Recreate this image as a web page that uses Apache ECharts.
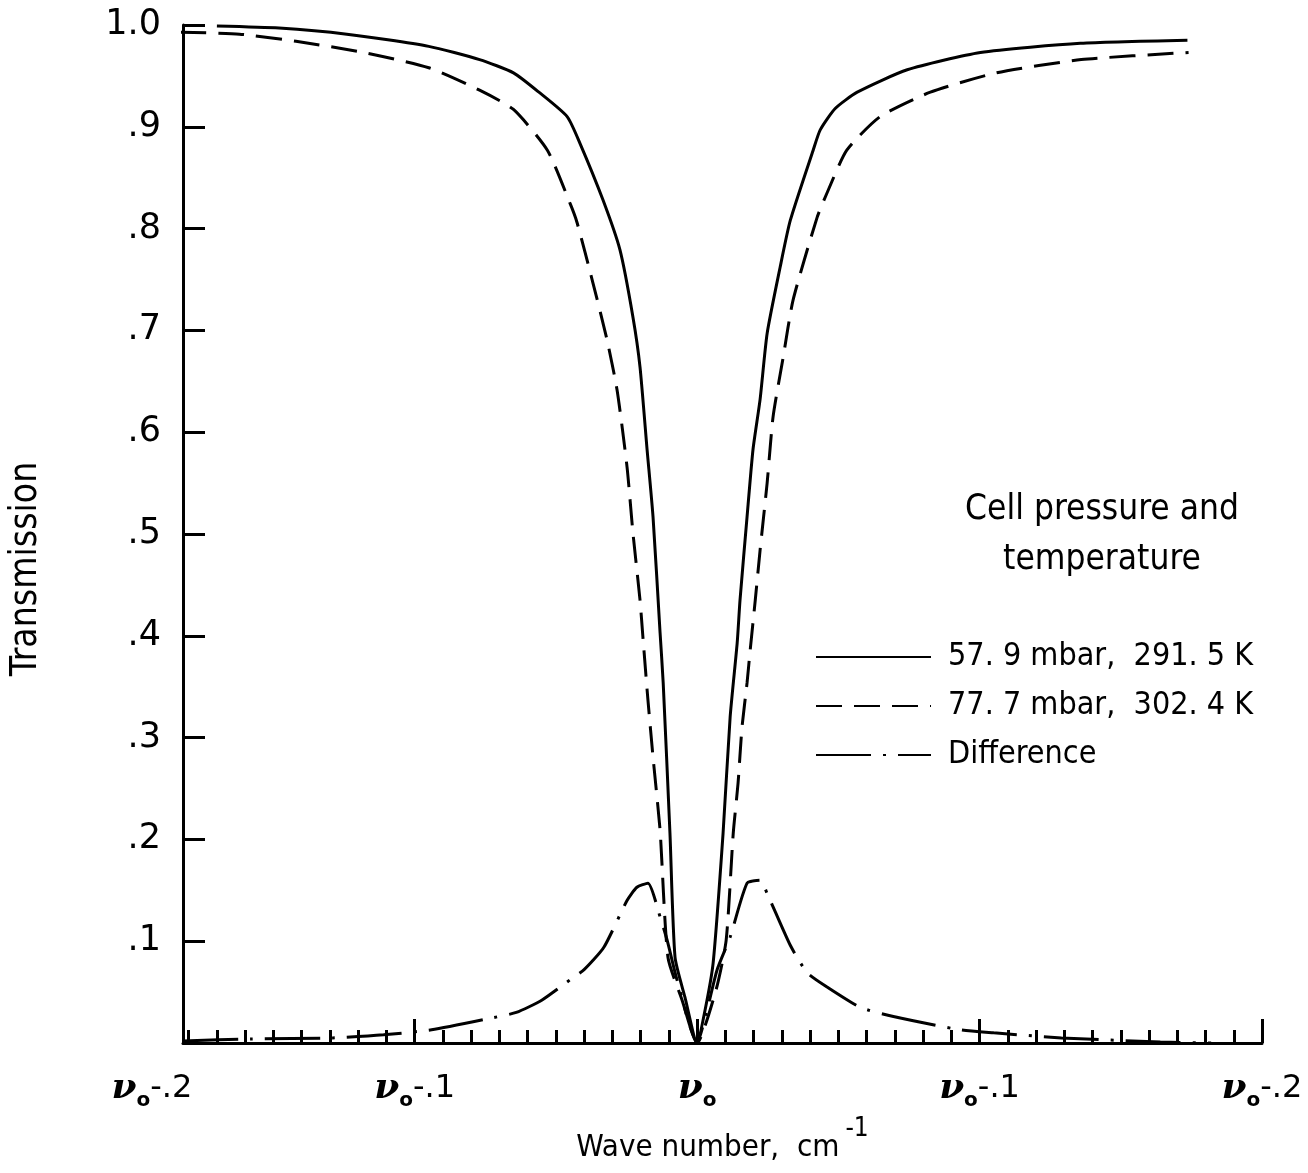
<!DOCTYPE html>
<html>
<head>
<meta charset="utf-8">
<script src="https://cdn.jsdelivr.net/npm/echarts@6/dist/echarts.min.js"></script>
<style>
  html, body { margin: 0; background: #fff; }
  #chart { width: 1308px; height: 1173px; }
</style>
</head>
<body>
<div id="chart"></div>
<script>
// wave number offset from line centre (cm-1) and transmission
var solidX = [-0.170, -0.148, -0.124, -0.095, -0.077, -0.065, -0.056, -0.046, -0.0415, -0.0333, -0.0273, -0.0227, -0.0202, -0.0177, -0.0156, -0.0131, -0.0120, -0.0096, -0.0078, -0.0043, 0,
  0.0028, 0.0057, 0.0092, 0.0117, 0.0142, 0.0152, 0.0177, 0.0198, 0.0223, 0.0248, 0.0294, 0.033, 0.0411, 0.0436, 0.0489, 0.0567, 0.0744, 0.1003, 0.1357, 0.1736];
var solidY = [0.999, 0.997, 0.991, 0.979, 0.966, 0.953, 0.934, 0.910, 0.884, 0.828, 0.779, 0.713, 0.664, 0.583, 0.517, 0.403, 0.354, 0.206, 0.084, 0.045, 0,
  0.032, 0.079, 0.206, 0.320, 0.393, 0.435, 0.517, 0.583, 0.632, 0.697, 0.762, 0.808, 0.877, 0.897, 0.918, 0.934, 0.956, 0.973, 0.982, 0.985];

var dashX = [-0.183, -0.162, -0.142, -0.118, -0.095, -0.077, -0.065, -0.053, -0.045, -0.0425, -0.0369, -0.0319, -0.0283, -0.0248, -0.0227, -0.0202, -0.0191, -0.0174, -0.0156, -0.0131, -0.0103, -0.0053, 0,
  0.0067, 0.0103, 0.0128, 0.0145, 0.0159, 0.0177, 0.0188, 0.0206, 0.0223, 0.0248, 0.0269, 0.0305, 0.034, 0.0425, 0.046, 0.053, 0.0648, 0.0826, 0.106, 0.136, 0.174];
var dashY = [0.993, 0.991, 0.984, 0.973, 0.958, 0.936, 0.917, 0.877, 0.825, 0.806, 0.747, 0.691, 0.641, 0.566, 0.501, 0.435, 0.396, 0.337, 0.281, 0.209, 0.084, 0.042, 0,
  0.052, 0.101, 0.206, 0.255, 0.310, 0.354, 0.386, 0.435, 0.484, 0.550, 0.615, 0.674, 0.730, 0.811, 0.835, 0.877, 0.910, 0.934, 0.953, 0.966, 0.973];

var diffX = [-0.182, -0.158, -0.129, -0.111, -0.094, -0.072, -0.064, -0.055, -0.045, -0.040, -0.033, -0.0248, -0.0213, -0.0174, -0.0131, -0.0106, -0.0071, 0,
  0.0035, 0.0071, 0.0117, 0.0177, 0.0223, 0.0248, 0.033, 0.039, 0.046, 0.0578, 0.0695, 0.093, 0.105, 0.129, 0.164, 0.182];
var diffY = [0.002, 0.004, 0.005, 0.008, 0.013, 0.025, 0.030, 0.042, 0.062, 0.072, 0.094, 0.140, 0.153, 0.157, 0.124, 0.101, 0.062, 0,
  0.032, 0.072, 0.104, 0.157, 0.160, 0.147, 0.096, 0.069, 0.055, 0.035, 0.026, 0.013, 0.010, 0.005, 0.001, 0.0];

var seriesNames = ['57. 9 mbar,  291. 5 K', '77. 7 mbar,  302. 4 K', 'Difference'];

// x tick labels (the left end of the axis sits a little inside nu0-.2)
var xLabelValues = [-0.182, -0.1, 0, 0.1, 0.2];
var xLabelText = ['-.2', '-.1', '', '-.1', '-.2'];
var xMajorTicks = [-0.1, 0, 0.1, 0.2];
var xMinorTicks = [];
for (var k = -18; k <= 20; k++) xMinorTicks.push(k / 100);

var condensed = "'DejaVu Sans Condensed', 'Liberation Sans Narrow', 'DejaVu Sans', sans-serif";

function zip(xs, ys) {
  return xs.map(function (x, i) { return [x, ys[i]]; });
}

var chart = echarts.init(document.getElementById('chart'));

chart.setOption({
  animation: false,
  backgroundColor: '#fff',
  grid: { left: 183, right: 46, top: 25, bottom: 130 },
  xAxis: [
    {
      type: 'value',
      min: -0.182,
      max: 0.2,
      axisLine: { onZero: false, lineStyle: { color: '#000', width: 3 } },
      axisTick: { inside: true, length: 24, customValues: xMajorTicks, lineStyle: { color: '#000', width: 3 } },
      splitLine: { show: false },
      axisLabel: {
        customValues: xLabelValues,
        margin: 24,
        formatter: function (v) {
          for (var i = 0; i < xLabelValues.length; i++) {
            if (Math.abs(v - xLabelValues[i]) < 1e-6) {
              var s = '{nu|ν}{sub|o}' + (xLabelText[i] ? '{t|' + xLabelText[i] + '}' : '');
              if (i === 0) s += '{pad| }';
              return s;
            }
          }
          return '';
        },
        rich: {
          nu: { fontFamily: 'DejaVu Serif', fontStyle: 'italic', fontWeight: 'bold', fontSize: 36, color: '#000', lineHeight: 44, verticalAlign: 'middle' },
          sub: { fontFamily: 'DejaVu Sans', fontWeight: 'bold', fontSize: 20, color: '#000', lineHeight: 44, verticalAlign: 'bottom' },
          t: { fontFamily: 'DejaVu Sans', fontSize: 32, color: '#000', lineHeight: 44, verticalAlign: 'middle' },
          pad: { width: 62 }
        }
      },
      name: '{a|Wave number,  cm}{s|-1}',
      nameLocation: 'middle',
      nameGap: 66,
      nameTextStyle: {
        rich: {
          a: { fontFamily: condensed, fontSize: 31, color: '#000', verticalAlign: 'bottom', lineHeight: 48 },
          s: { fontFamily: condensed, fontSize: 26, color: '#000', verticalAlign: 'top', lineHeight: 48, padding: [0, 0, 0, 6] }
        }
      }
    },
    {
      type: 'value',
      min: -0.182,
      max: 0.2,
      position: 'bottom',
      axisLine: { show: false, onZero: false },
      axisTick: { inside: true, length: 13, customValues: xMinorTicks, lineStyle: { color: '#000', width: 3 } },
      axisLabel: { show: false },
      splitLine: { show: false }
    }
  ],
  yAxis: {
    type: 'value',
    min: 0,
    max: 1,
    interval: 0.1,
    axisLine: { show: true, onZero: false, lineStyle: { color: '#000', width: 3 } },
    axisTick: { show: true, inside: true, length: 22, lineStyle: { color: '#000', width: 3 } },
    splitLine: { show: false },
    axisLabel: {
      margin: 22,
      fontFamily: 'DejaVu Sans',
      fontSize: 35,
      color: '#000',
      formatter: function (v) {
        if (v === 0) return '';
        if (Math.abs(v - 1) < 1e-9) return '1.0';
        return '.' + Math.round(v * 10);
      }
    },
    name: 'Transmission',
    nameLocation: 'middle',
    nameGap: 138,
    nameTextStyle: { fontFamily: condensed, fontSize: 37, color: '#000', padding: [0, 70, 0, 0] }
  },
  legend: {
    orient: 'vertical',
    left: 810,
    top: 636,
    itemWidth: 115,
    itemHeight: 30,
    itemGap: 17,
    itemStyle: { color: 'rgba(0,0,0,0)', borderWidth: 0, opacity: 0 },
    textStyle: { fontFamily: condensed, fontSize: 32, color: '#000', padding: [0, 0, 0, 12] },
    data: seriesNames
  },
  graphic: [
    {
      type: 'text',
      x: 1102,
      y: 535,
      style: {
        text: 'Cell pressure and\ntemperature',
        font: "35px 'DejaVu Sans Condensed', 'DejaVu Sans', sans-serif",
        fill: '#000',
        textAlign: 'center',
        textVerticalAlign: 'middle',
        lineHeight: 50
      }
    }
  ],
  series: [
    {
      name: seriesNames[0],
      type: 'line',
      data: zip(solidX, solidY),
      symbol: 'none',
      smooth: 0.2,
      lineStyle: { color: '#000', width: 3 },
      itemStyle: { color: '#000' }
    },
    {
      name: seriesNames[1],
      type: 'line',
      data: zip(dashX, dashY),
      symbol: 'none',
      smooth: 0.2,
      lineStyle: { color: '#000', width: 3, type: [26, 12] },
      itemStyle: { color: '#000' }
    },
    {
      name: seriesNames[2],
      type: 'line',
      data: zip(diffX, diffY),
      symbol: 'none',
      smooth: 0.2,
      lineStyle: { color: '#000', width: 3, type: [55, 12, 3, 12] },
      itemStyle: { color: '#000' }
    }
  ]
});
</script>
</body>
</html>
